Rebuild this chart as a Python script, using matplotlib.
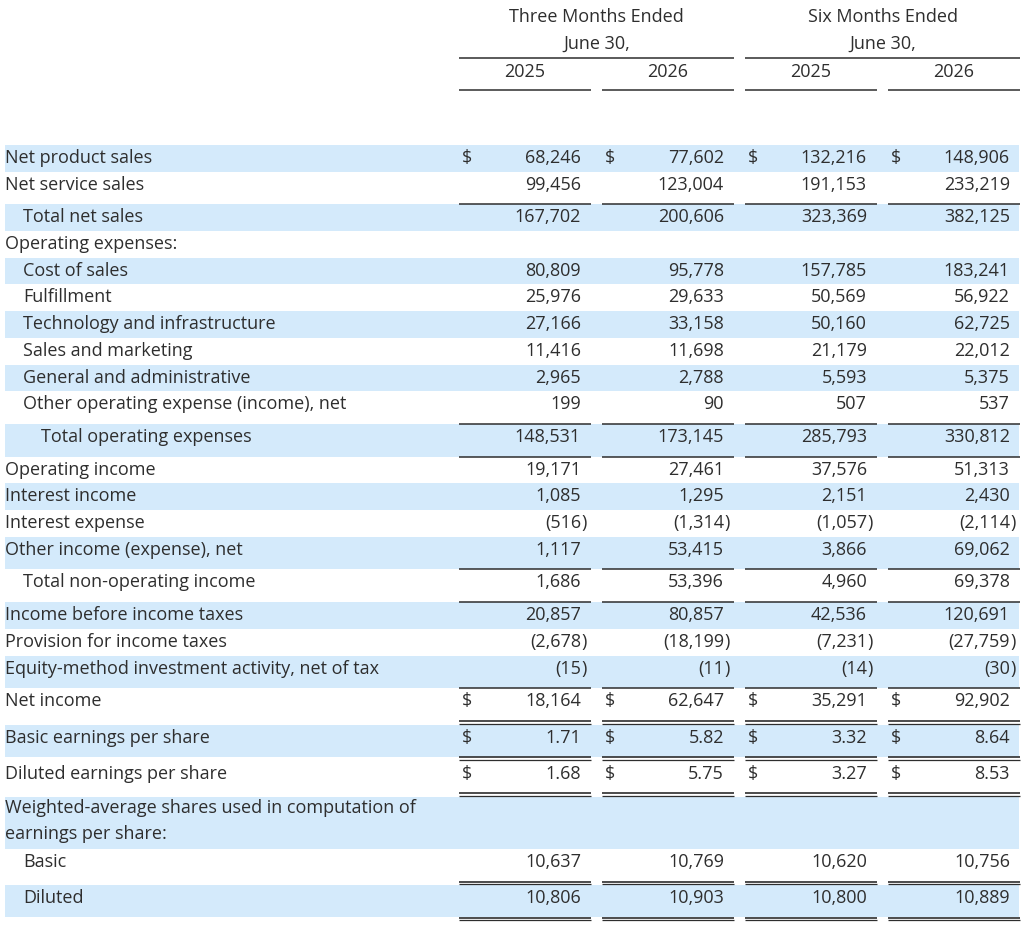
import numpy as np
import matplotlib.pyplot as plt

plt.rcParams['font.family'] = ['Open Sans', 'DejaVu Sans']

# ---- data ----
labels = [
    "Net product sales", "Net service sales", "Total net sales",
    "Operating expenses:", "Cost of sales", "Fulfillment",
    "Technology and infrastructure", "Sales and marketing",
    "General and administrative", "Other operating expense (income), net",
    "Total operating expenses", "Operating income", "Interest income",
    "Interest expense", "Other income (expense), net",
    "Total non-operating income", "Income before income taxes",
    "Provision for income taxes",
    "Equity-method investment activity, net of tax", "Net income",
    "Basic earnings per share", "Diluted earnings per share",
    "Weighted-average shares used in computation of\nearnings per share:",
    "Basic", "Diluted",
]
group_titles = ["Three Months Ended\nJune 30,", "Six Months Ended\nJune 30,"]
years = ["2025", "2026", "2025", "2026"]

q_2025 = [68246, 99456, 167702, None, 80809, 25976, 27166, 11416, 2965, 199,
          148531, 19171, 1085, -516, 1117, 1686, 20857, -2678, -15, 18164,
          1.71, 1.68, None, 10637, 10806]
q_2026 = [77602, 123004, 200606, None, 95778, 29633, 33158, 11698, 2788, 90,
          173145, 27461, 1295, -1314, 53415, 53396, 80857, -18199, -11, 62647,
          5.82, 5.75, None, 10769, 10903]
h_2025 = [132216, 191153, 323369, None, 157785, 50569, 50160, 21179, 5593, 507,
          285793, 37576, 2151, -1057, 3866, 4960, 42536, -7231, -14, 35291,
          3.32, 3.27, None, 10620, 10800]
h_2026 = [148906, 233219, 382125, None, 183241, 56922, 62725, 22012, 5375, 537,
          330812, 51313, 2430, -2114, 69062, 69378, 120691, -27759, -30, 92902,
          8.64, 8.53, None, 10756, 10889]
columns = [q_2025, q_2026, h_2025, h_2026]

# ---- layout / style ----
indent = [0, 0, 1, 0, 1, 1, 1, 1, 1, 1, 2, 0, 0, 0, 0, 1, 0, 0, 0, 0, 0, 0, 0, 1, 1]
dollar_rows = {0, 19, 20, 21}
rule_above = {2, 10, 11, 15, 16, 19}
double_below = {19, 20, 21, 23, 24}

TXT = '#2e2e2e'
BAND = '#d4eafb'
FS = 13
col_left = [459, 602, 745, 888]
col_w = 132
num_pad = 10
row_h = 26.7
line_h = 25.2

fig = plt.figure(figsize=(10.24, 9.25), dpi=100)
ax = fig.add_axes([0, 0, 1, 1])
ax.set_xlim(0, 1024)
ax.set_ylim(925, 0)
ax.axis('off')

# header
for g, title in enumerate(group_titles):
    x0 = col_left[2 * g]
    x1 = col_left[2 * g + 1] + col_w
    for k, line in enumerate(title.split('\n')):
        ax.text((x0 + x1) / 2, 17 + 27 * k, line, ha='center', va='center',
                fontsize=FS, color=TXT)
    ax.hlines(58, x0, x1, color=TXT, lw=1.1)
for c, yr in enumerate(years):
    ax.text(col_left[c] + col_w / 2, 72, yr, ha='center', va='center',
            fontsize=FS, color=TXT)
    ax.hlines(90, col_left[c], col_left[c] + col_w, color=TXT, lw=1.1)


def fmt(v):
    if isinstance(v, float):
        return f"{v:.2f}", False
    if v < 0:
        return f"({-v:,}", True
    return f"{v:,}", False


top = 145.0
for i, lab in enumerate(labels):
    nlines = lab.count('\n') + 1
    h = row_h + line_h * (nlines - 1)
    if i + 1 in rule_above:
        h += 6
    if i in double_below:
        h += 9.5
    band_h = h - 4 if i in double_below else h
    if i % 2 == 0:
        ax.barh(top + band_h / 2, 1014, height=band_h, left=5, color=BAND,
                edgecolor='none', zorder=0)
    yc = top + 13
    for k, line in enumerate(lab.split('\n')):
        ax.text(5 + 18 * indent[i], yc + (line_h + 0.8) * k - (2 if nlines > 1 else 0),
                line, ha='left', va='center', fontsize=FS, color=TXT)
    for c, col in enumerate(columns):
        x0 = col_left[c]
        x1 = x0 + col_w
        v = col[i]
        if v is not None:
            s, neg = fmt(v)
            ax.text(x1 - num_pad, yc, s, ha='right', va='center', fontsize=FS, color=TXT)
            if neg:
                ax.text(x1 - num_pad, yc, ")", ha='left', va='center', fontsize=FS, color=TXT)
            if i in dollar_rows:
                ax.text(x0 + 3, yc, "$", ha='left', va='center', fontsize=FS, color=TXT)
        if i in rule_above:
            ax.hlines(top, x0, x1, color=TXT, lw=1.1, zorder=3)
        if i in double_below:
            ax.hlines(top + h - 3.5, x0, x1, color=TXT, lw=1.2, zorder=3)
            ax.hlines(top + h - 0.8, x0, x1, color=TXT, lw=0.9, zorder=3)
    top += h

fig.savefig('out.png', dpi=100)
